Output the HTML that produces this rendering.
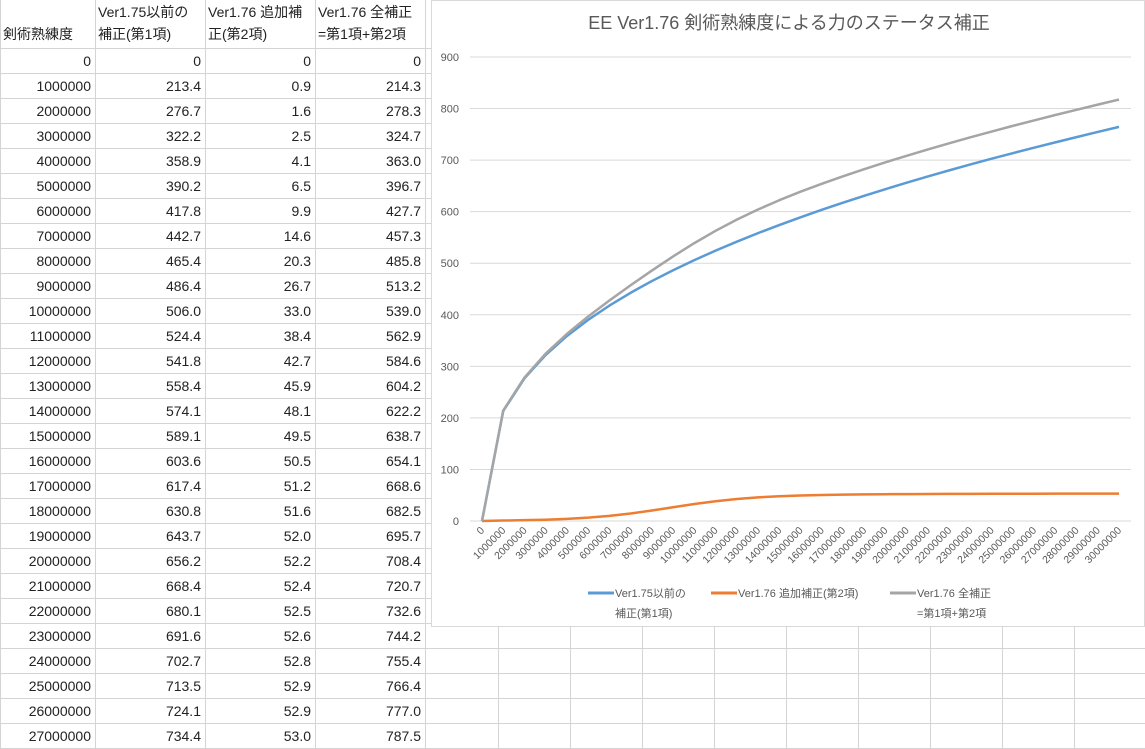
<!DOCTYPE html>
<html><head><meta charset="utf-8">
<style>
body{margin:0;width:1145px;height:749px;overflow:hidden;background:#fff;font-family:"Liberation Sans","Noto Sans CJK JP",sans-serif;}
#sheet{position:absolute;left:0;top:0;width:1145px;height:749px;}
.vl{position:absolute;top:0;height:749px;width:1px;background:#d4d4d4;}
.hl{position:absolute;left:0;width:1145px;height:1px;background:#d4d4d4;}
.c{position:absolute;height:25px;line-height:25px;font-size:14px;color:#222;text-align:right;white-space:nowrap;box-sizing:border-box;padding-right:4px;}
.hd{position:absolute;top:0;height:48px;font-size:14px;color:#222;line-height:22px;padding-left:3px;display:flex;align-items:flex-end;padding-bottom:3px;box-sizing:border-box;}
#chart{position:absolute;left:431px;top:0;width:714px;height:627px;background:#fff;border:1px solid #d9d9d9;box-sizing:border-box;}
</style></head><body>
<div id="sheet"></div>
<div id="chart">
<svg id="svg" width="714" height="627" xmlns="http://www.w3.org/2000/svg"></svg>
</div>
<script>
const levels=[0,1000000,2000000,3000000,4000000,5000000,6000000,7000000,8000000,9000000,10000000,11000000,12000000,13000000,14000000,15000000,16000000,17000000,18000000,19000000,20000000,21000000,22000000,23000000,24000000,25000000,26000000,27000000,28000000,29000000,30000000];
const term1=[0,213.4,276.7,322.2,358.9,390.2,417.8,442.7,465.4,486.4,506.0,524.4,541.8,558.4,574.1,589.1,603.6,617.4,630.8,643.7,656.2,668.4,680.1,691.6,702.7,713.5,724.1,734.4,744.6,754.6,764.5];
const term2=[0,0.9,1.6,2.5,4.1,6.5,9.9,14.6,20.3,26.7,33.0,38.4,42.7,45.9,48.1,49.5,50.5,51.2,51.6,52.0,52.2,52.4,52.5,52.6,52.8,52.9,52.9,53.0,53.0,53.0,53.0];
const total=[0,214.3,278.3,324.7,363.0,396.7,427.7,457.3,485.8,513.2,539.0,562.9,584.6,604.2,622.2,638.7,654.1,668.6,682.5,695.7,708.4,720.7,732.6,744.2,755.4,766.4,777.0,787.5,797.6,807.6,817.5];
const yTicks=[0,100,200,300,400,500,600,700,800,900];
const tableRows=28;

// ---- spreadsheet ----
const sheet=document.getElementById('sheet');
const colX=[0,95,205,315,425,498,570,642,714,786,858,930,1002,1074,1146];
let h='';
colX.forEach(x=>{h+='<div class="vl" style="left:'+x+'px"></div>';});
h+='<div class="hl" style="top:48px"></div>';
for(let i=1;i<=tableRows;i++)h+='<div class="hl" style="top:'+(48+25*i)+'px"></div>';
const heads=['剣術熟練度','Ver1.75以前の<br>補正(第1項)','Ver1.76 追加補<br>正(第2項)','Ver1.76 全補正<br>=第1項+第2項'];
const hnames=['header-level','header-term1','header-term2','header-total'];
heads.forEach((t,j)=>{h+='<div class="hd" style="left:'+colX[j]+'px;width:'+(colX[j+1]-colX[j])+'px"><span>'+t+'</span></div>';});
const cnames=['cell-level','cell-term1','cell-term2','cell-total'];
for(let i=0;i<tableRows;i++){
  const f=v=>i===0?'0':v.toFixed(1);
  const vals=[String(levels[i]),f(term1[i]),f(term2[i]),f(total[i])];
  vals.forEach((v,j)=>{h+='<div class="c" style="left:'+colX[j]+'px;width:'+(colX[j+1]-colX[j])+'px;top:'+(49+25*i)+'px">'+v+'</div>';});
}
sheet.innerHTML=h;

// ---- chart ----
const svg=document.getElementById('svg');
const NS='http://www.w3.org/2000/svg';
const X0=50,X1=687,Y0=520,Y1=56,GL=38,GR=699;
const xS=i=>X0+(X1-X0)*i/(levels.length-1);
const yS=v=>Y0-(Y0-Y1)*v/900;
function mk(tag,attrs,name){const e=document.createElementNS(NS,tag);for(const k in attrs)e.setAttribute(k,attrs[k]);


svg.appendChild(e);return e;}
const title=mk('text',{x:357,y:28,'text-anchor':'middle','font-size':18,fill:'#595959'},'chart-title');
title.textContent='EE Ver1.76 剣術熟練度による力のステータス補正';
yTicks.forEach(v=>{
  mk('line',{x1:GL,x2:GR,y1:yS(v),y2:yS(v),stroke:'#d9d9d9','stroke-width':1},'y-gridline');
  const t=mk('text',{x:27,y:yS(v)+4,'text-anchor':'end','font-size':11,fill:'#595959'},'y-tick-label');
  t.textContent=v;
});
levels.forEach((l,i)=>{
  const x=xS(i)+3,y=Y0+10;
  const t=mk('text',{x:x,y:y,'text-anchor':'end','font-size':10.5,fill:'#595959',transform:'rotate(-45 '+x+' '+y+')'},'x-tick-label');
  t.textContent=l;
});
function line(arr,color,name){
  mk('polyline',{points:arr.map((v,i)=>xS(i)+','+yS(v)).join(' '),fill:'none',stroke:color,'stroke-width':2.5,'stroke-linejoin':'round'},name);
}
line(term1,'#5b9bd5','series-term1');
line(term2,'#ed7d31','series-term2');
line(total,'#a5a5a5','series-total');
// legend
const leg=[[156,'#5b9bd5','Ver1.75以前の','補正(第1項)',183],[279,'#ed7d31','Ver1.76 追加補正(第2項)','',0],[458,'#a5a5a5','Ver1.76 全補正','=第1項+第2項',485]];
leg.forEach(([x,c,a,b,bx])=>{
  mk('line',{x1:x,x2:x+26,y1:592,y2:592,stroke:c,'stroke-width':3},'legend-swatch');
  const t=mk('text',{x:x+27,y:596,'font-size':11,fill:'#595959'},'legend-label');t.textContent=a;
  if(b){const t2=mk('text',{x:bx,y:616,'font-size':11,fill:'#595959'},'legend-label-line2');t2.textContent=b;}
});
</script>
</body></html>
